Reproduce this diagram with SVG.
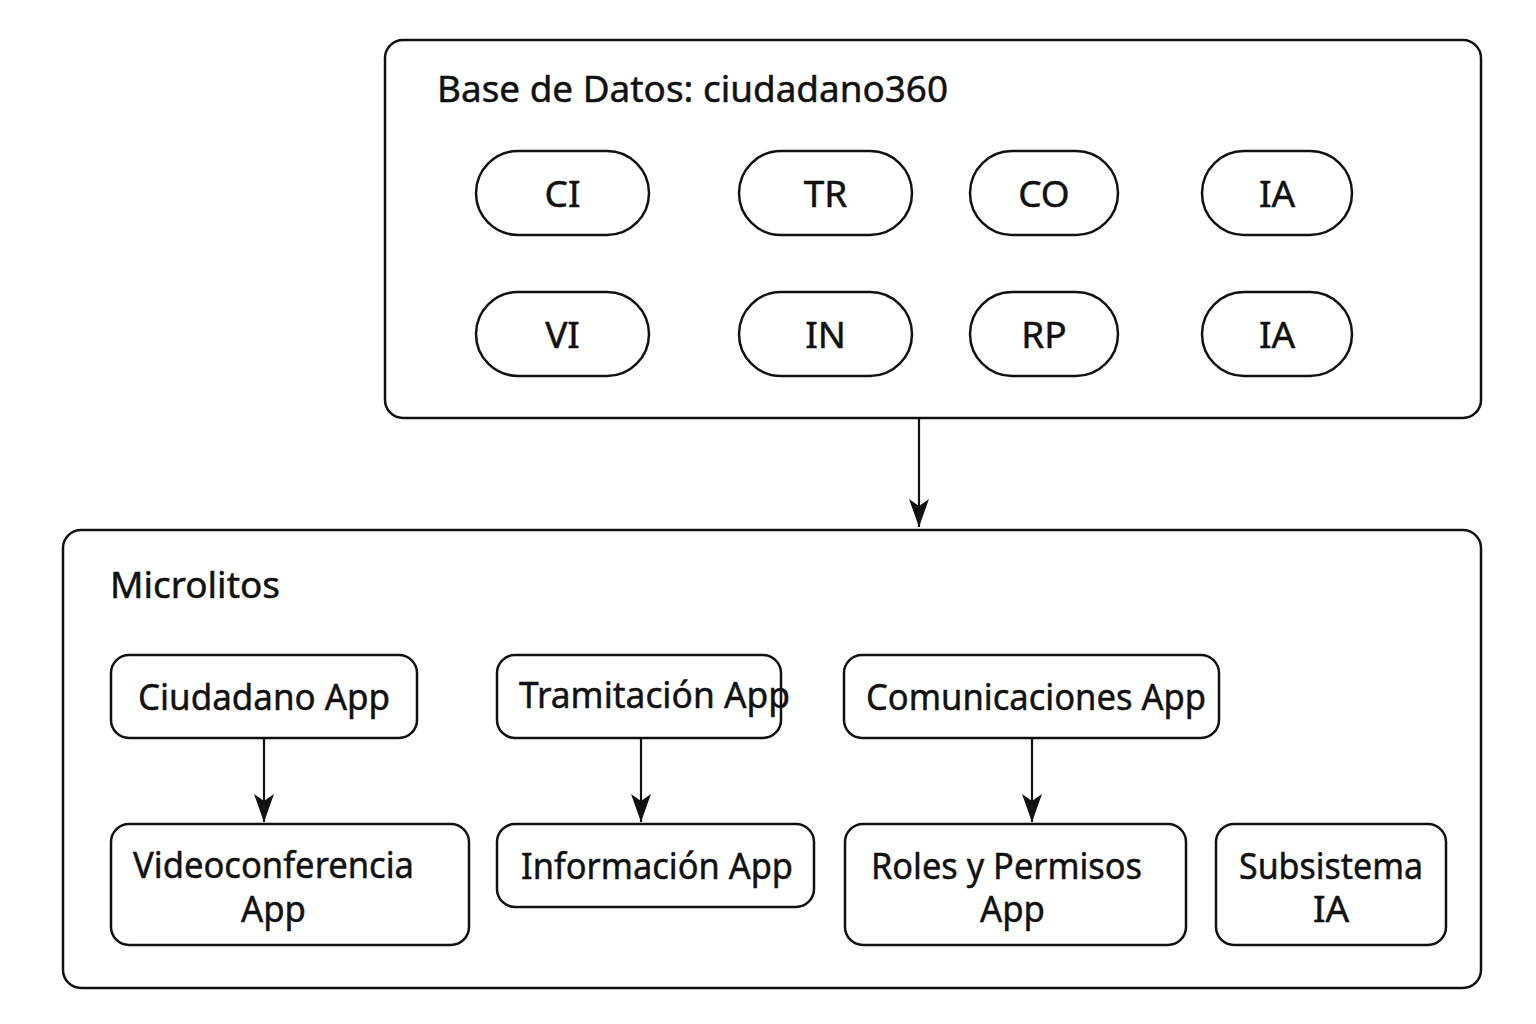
<svg xmlns="http://www.w3.org/2000/svg" width="1536" height="1024" viewBox="0 0 1536 1024">
<defs>
<style>
.box{fill:#fff;stroke:#111;stroke-width:2.5}
.t{font-family:"Noto Sans","Open Sans","DejaVu Sans",sans-serif;font-size:37px;fill:#111;stroke:#111;stroke-width:0.5}
.c{text-anchor:middle}
.ln{stroke:#111;stroke-width:2.2;fill:none}
</style>
<marker id="ah" viewBox="0 0 28 20" markerUnits="userSpaceOnUse" markerWidth="28" markerHeight="20" refX="28" refY="10" orient="auto">
<path d="M0,0 L28,10 L0,20 L7,10 Z" fill="#111"/>
</marker>
</defs>
<rect width="1536" height="1024" fill="#fff"/>

<g id="db">
<rect class="box" x="385" y="40" width="1096" height="378" rx="18"/>
<text class="t" x="437" y="102" textLength="511" lengthAdjust="spacingAndGlyphs">Base de Datos: ciudadano360</text>
</g>
<g id="pill-ci"><rect class="box" x="476" y="151" width="173" height="84" rx="42"/><text class="t c" x="562.5" y="207">CI</text></g>
<g id="pill-tr"><rect class="box" x="739" y="151" width="173" height="84" rx="42"/><text class="t c" x="825.5" y="207">TR</text></g>
<g id="pill-co"><rect class="box" x="970" y="151" width="148" height="84" rx="42"/><text class="t c" x="1044" y="207">CO</text></g>
<g id="pill-ia1"><rect class="box" x="1202" y="151" width="150" height="84" rx="42"/><text class="t c" x="1277" y="207">IA</text></g>
<g id="pill-vi"><rect class="box" x="476" y="292" width="173" height="84" rx="42"/><text class="t c" x="562.5" y="348">VI</text></g>
<g id="pill-in"><rect class="box" x="739" y="292" width="173" height="84" rx="42"/><text class="t c" x="825.5" y="348">IN</text></g>
<g id="pill-rp"><rect class="box" x="970" y="292" width="148" height="84" rx="42"/><text class="t c" x="1044" y="348">RP</text></g>
<g id="pill-ia2"><rect class="box" x="1202" y="292" width="150" height="84" rx="42"/><text class="t c" x="1277" y="348">IA</text></g>

<g id="microlitos">
<rect class="box" x="63" y="530" width="1418" height="458" rx="18"/>
<text class="t" x="110" y="598" textLength="170" lengthAdjust="spacingAndGlyphs">Microlitos</text>
</g>
<g id="ciudadano"><rect class="box" x="111" y="655" width="306" height="83" rx="18"/><text class="t" x="138" y="710" textLength="252" lengthAdjust="spacingAndGlyphs">Ciudadano App</text></g>
<g id="tramitacion"><rect class="box" x="497" y="655" width="284" height="83" rx="18"/><text class="t" x="519" y="708" textLength="271" lengthAdjust="spacingAndGlyphs">Tramitación App</text></g>
<g id="comunicaciones"><rect class="box" x="844" y="655" width="375" height="83" rx="18"/><text class="t" x="866" y="710" textLength="340" lengthAdjust="spacingAndGlyphs">Comunicaciones App</text></g>
<g id="videoconferencia"><rect class="box" x="111" y="824" width="358" height="121" rx="18"/><text class="t" x="133" y="878" textLength="281" lengthAdjust="spacingAndGlyphs">Videoconferencia</text><text class="t" x="241" y="922" textLength="65" lengthAdjust="spacingAndGlyphs">App</text></g>
<g id="informacion"><rect class="box" x="497" y="824" width="317" height="83" rx="18"/><text class="t" x="521" y="879" textLength="272" lengthAdjust="spacingAndGlyphs">Información App</text></g>
<g id="roles"><rect class="box" x="845" y="824" width="341" height="121" rx="18"/><text class="t" x="871" y="879" textLength="271" lengthAdjust="spacingAndGlyphs">Roles y Permisos</text><text class="t" x="980" y="922" textLength="65" lengthAdjust="spacingAndGlyphs">App</text></g>
<g id="subsistema"><rect class="box" x="1216" y="824" width="230" height="121" rx="18"/><text class="t" x="1239" y="879" textLength="184" lengthAdjust="spacingAndGlyphs">Subsistema</text><text class="t c" x="1331" y="922">IA</text></g>

<g id="connectors">
<line class="ln" x1="919" y1="419" x2="919" y2="527" marker-end="url(#ah)"/>
<line class="ln" x1="264" y1="739" x2="264" y2="822" marker-end="url(#ah)"/>
<line class="ln" x1="641" y1="739" x2="641" y2="822" marker-end="url(#ah)"/>
<line class="ln" x1="1032" y1="739" x2="1032" y2="822" marker-end="url(#ah)"/>
</g>
</svg>
